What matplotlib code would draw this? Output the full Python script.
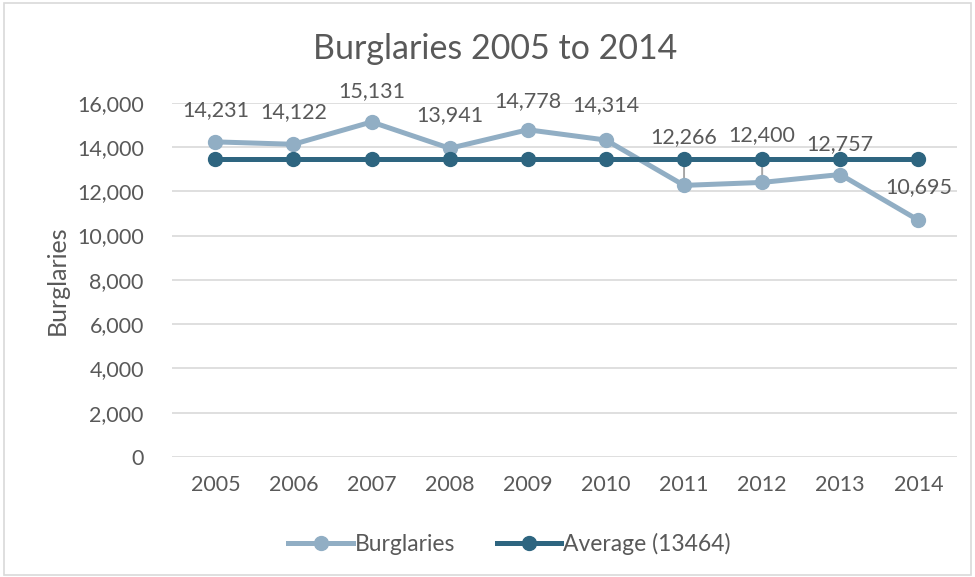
import matplotlib
matplotlib.use("Agg")
import matplotlib.pyplot as plt
from matplotlib.patches import Rectangle

years = ["2005", "2006", "2007", "2008", "2009", "2010", "2011", "2012", "2013", "2014"]
burglaries = [14231, 14122, 15131, 13941, 14778, 14314, 12266, 12400, 12757, 10695]
average = 13464
# label offsets above each point (points); 2011/2012 pushed higher with leader lines
label_offsets = [23, 23, 22, 24, 21, 25, 35, 34, 22, 24]

TEXT = "#595959"
LIGHT = "#91AEC4"
DARK = "#2E6580"

plt.rcParams["font.family"] = ["Lato", "DejaVu Sans"]

fig = plt.figure(figsize=(9.75, 5.77), dpi=100)
ax = fig.add_axes([0.176, 0.208, 0.806, 0.614])
fig.patches.append(Rectangle((0.004, 0.004), 0.992, 0.99, transform=fig.transFigure,
                             fill=False, edgecolor="#D9D9D9", linewidth=1.2))

x = list(range(len(years)))
ax.plot(x, burglaries, "-o", color=LIGHT, lw=3.6, ms=10, label="Burglaries", zorder=3)
ax.plot(x, [average] * len(x), "-o", color=DARK, lw=3.6, ms=10,
        label=f"Average ({average})", zorder=4)

for i, (v, off) in enumerate(zip(burglaries, label_offsets)):
    ax.annotate(f"{v:,}", (i, v), xytext=(0, off), textcoords="offset points",
                ha="center", va="center", fontsize=15.5, color=TEXT, zorder=5)
    if off > 30:
        ax.annotate("", (i, v), xytext=(0, off - 11), textcoords="offset points",
                    arrowprops=dict(arrowstyle="-", color="#A6A6A6", lw=1.4), zorder=2)

ax.set_xlim(-0.56, 9.5)
ax.set_ylim(0, 16000)
ax.set_yticks(range(0, 16001, 2000))
ax.yaxis.set_major_formatter(matplotlib.ticker.FuncFormatter(lambda v, p: f"{int(v):,}"))
ax.set_xticks(x)
ax.set_xticklabels(years)
ax.tick_params(length=0, labelsize=15.5, colors=TEXT, pad=13)
ax.tick_params(axis="y", pad=20)
ax.grid(axis="y", color="#D9D9D9", lw=1.2)
ax.set_axisbelow(True)
for s in ax.spines.values():
    s.set_visible(False)
ax.set_ylabel("Burglaries", fontsize=18, color=TEXT, labelpad=6)
fig.text(0.508, 0.915, "Burglaries 2005 to 2014", fontsize=24.5, color=TEXT,
         ha="center", va="center")

ax.legend(loc="upper center", bbox_to_anchor=(0.43, -0.155), ncol=2, frameon=False,
          fontsize=16.5, labelcolor=TEXT, handlelength=2.8, handletextpad=0.1,
          columnspacing=1.8)

fig.savefig("out.png", dpi=100)
